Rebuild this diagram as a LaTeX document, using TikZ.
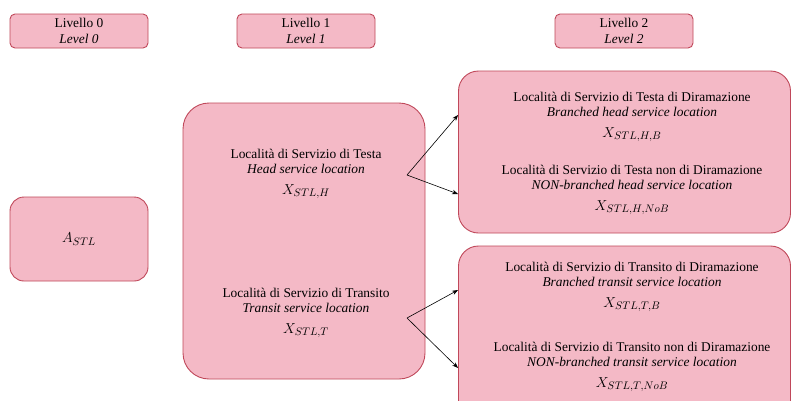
\documentclass[tikz,border=0pt]{standalone}
\usepackage{fontspec}
\setmainfont{Liberation Serif}
\usetikzlibrary{arrows.meta}
\definecolor{boxfill}{HTML}{F4B9C6}
\definecolor{boxline}{HTML}{C0485A}
\newcommand{\symline}[1]{{\fontsize{15.5}{18}\selectfont$#1$}}
\begin{document}
\begin{tikzpicture}[x=1pt,y=-1pt,
  box/.style={draw=boxline, fill=boxfill, line width=0.9pt, inner sep=0pt},
  head/.style={box, rounded corners=5pt, minimum width=138pt, minimum height=34pt,
    align=center, font=\fontsize{13.4}{16}\selectfont},
  lbl/.style={align=center, inner sep=0pt, font=\fontsize{13.4}{15.5}\selectfont},
  sym/.style={font=\fontsize{15.5}{18}\selectfont},
  link/.style={-{Stealth[length=6pt,width=4.5pt]}, line width=0.6pt}]
\useasboundingbox (0,0) rectangle (794,400);
\clip (0,0) rectangle (794,400);
\fill[white] (0,0) rectangle (794,400);

% level headers
\node[head] (lv0) at (79,31)  {Livello 0\\\textit{Level 0}};
\node[head] (lv1) at (306,31) {Livello 1\\\textit{Level 1}};
\node[head] (lv2) at (624,31) {Livello 2\\\textit{Level 2}};

% level 0
\node[box, rounded corners=14pt, minimum width=138pt, minimum height=84pt] (a0) at (79,239) {};
\node[sym] (astl) at (a0.center) {$A_{STL}$};

% level 1
\node[box, rounded corners=26pt, minimum width=242pt, minimum height=276pt] (mid) at (304,241) {};
\node[lbl] (head) at (306,174) {Località di Servizio di Testa\\\textit{Head service location}\\[5pt]\symline{X_{STL,H}}};
\node[lbl] (trans) at (306,313) {Località di Servizio di Transito\\\textit{Transit service location}\\[5pt]\symline{X_{STL,T}}};

% level 2
\node[box, rounded corners=20pt, minimum width=332pt, minimum height=162pt] (rt) at (624.5,152) {};
\node[box, rounded corners=20pt, minimum width=332pt, minimum height=176pt] (rb) at (624.5,334) {};
\node[lbl] (hb) at (632,117) {Località di Servizio di Testa di Diramazione\\\textit{Branched head service location}\\[5pt]\symline{X_{STL,H,B}}};
\node[lbl] (hn) at (632,190) {Località di Servizio di Testa non di Diramazione\\\textit{NON-branched head service location}\\[5pt]\symline{X_{STL,H,NoB}}};
\node[lbl] (tb) at (632,287) {Località di Servizio di Transito di Diramazione\\\textit{Branched transit service location}\\[5pt]\symline{X_{STL,T,B}}};
\node[lbl] (tn) at (632,367) {Località di Servizio di Transito non di Diramazione\\\textit{NON-branched transit service location}\\[5pt]\symline{X_{STL,T,NoB}}};

% connectors
\coordinate (hsrc) at (407,175);
\coordinate (tsrc) at (407,318);
\coordinate (hbend) at (rt.west |- 0,115);
\coordinate (hnend) at (rt.west |- 0,194);
\coordinate (tbend) at (rb.west |- 0,290);
\coordinate (tnend) at (rb.west |- 0,368);
\draw[link] (hsrc) -- (hbend);
\draw[link] (hsrc) -- (hnend);
\draw[link] (tsrc) -- (tbend);
\draw[link] (tsrc) -- (tnend);
\end{tikzpicture}
\end{document}
